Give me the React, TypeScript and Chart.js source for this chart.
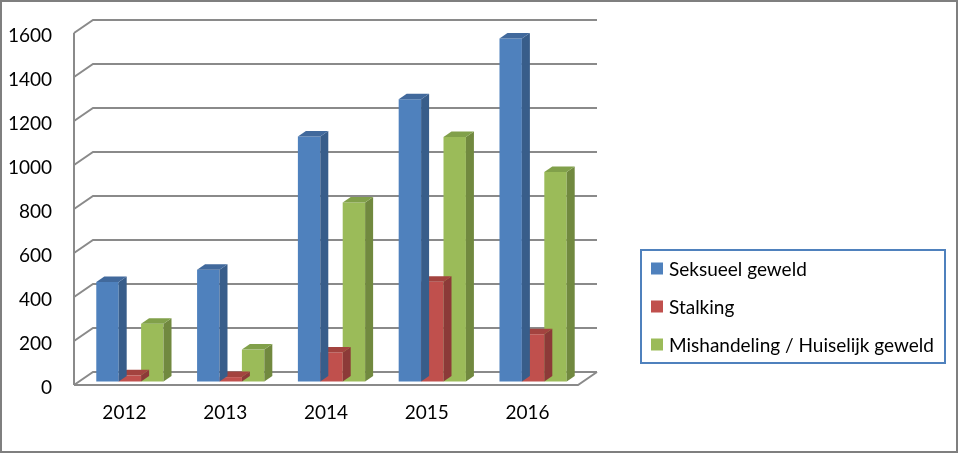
import React, { useEffect, useRef } from "react";
import { Chart, registerables } from "chart.js";

Chart.register(...registerables);

const categories = ["2012", "2013", "2014", "2015", "2016"];
const seriesNames = ["Seksueel geweld", "Stalking", "Mishandeling / Huiselijk geweld"];
const seksueelGeweld = [452, 508, 1114, 1283, 1559];
const stalking = [28, 20, 132, 453, 215];
const mishandeling = [262, 145, 814, 1111, 952];
const yTicks = [0, 200, 400, 600, 800, 1000, 1200, 1400, 1600];

const FRONT = ["#4F81BD", "#C0504D", "#9BBB59"];
const SIDE = ["#385D8A", "#8C3A38", "#71893F"];
const TOP = ["#41699C", "#A3433F", "#81A04A"];

const FONT = "Lato, 'Open Sans', sans-serif";
const WALL_DX = 19;
const WALL_DY = -13;
const BAR_SHIFT_X = 5.5;
const BAR_SHIFT_Y = -3.5;
const BAR_DX = 8;
const BAR_DY = -5.5;

const threeD = {
  id: "threeD",
  beforeDraw(chart: any) {
    const ctx = chart.ctx;
    ctx.save();
    ctx.fillStyle = "#ffffff";
    ctx.fillRect(0, 0, chart.width, chart.height);
    ctx.restore();
  },
  beforeDatasetsDraw(chart: any) {
    const ctx = chart.ctx;
    const ys = chart.scales.y;
    const { left, right } = chart.chartArea;
    ctx.save();
    ctx.strokeStyle = "#8a8a8a";
    ctx.lineWidth = 2;
    yTicks.forEach((v) => {
      const y = ys.getPixelForValue(v);
      ctx.beginPath();
      ctx.moveTo(left, y);
      ctx.lineTo(left + WALL_DX, y + WALL_DY);
      ctx.lineTo(right + WALL_DX, y + WALL_DY);
      ctx.stroke();
    });
    // floor
    const y0 = ys.getPixelForValue(0);
    ctx.beginPath();
    ctx.moveTo(left, y0);
    ctx.lineTo(right, y0);
    ctx.lineTo(right + WALL_DX, y0 + WALL_DY);
    ctx.stroke();
    // left wall front edge
    const yTop = ys.getPixelForValue(1600);
    ctx.beginPath();
    ctx.moveTo(left, yTop);
    ctx.lineTo(left, y0);
    ctx.stroke();
    ctx.restore();
    ctx.save();
    ctx.translate(BAR_SHIFT_X, BAR_SHIFT_Y);
  },
  afterDatasetDraw(chart: any, args: any) {
    const ctx = chart.ctx;
    const i = args.index;
    args.meta.data.forEach((bar: any) => {
      const { x, y, base, width } = bar.getProps(["x", "y", "base", "width"], true);
      const l = x - width / 2;
      const r = x + width / 2;
      ctx.fillStyle = SIDE[i];
      ctx.beginPath();
      ctx.moveTo(r, y);
      ctx.lineTo(r + BAR_DX, y + BAR_DY);
      ctx.lineTo(r + BAR_DX, base + BAR_DY);
      ctx.lineTo(r, base);
      ctx.closePath();
      ctx.fill();
      ctx.fillStyle = TOP[i];
      ctx.beginPath();
      ctx.moveTo(l, y);
      ctx.lineTo(l + BAR_DX, y + BAR_DY);
      ctx.lineTo(r + BAR_DX, y + BAR_DY);
      ctx.lineTo(r, y);
      ctx.closePath();
      ctx.fill();
    });
  },
  afterDatasetsDraw(chart: any) {
    chart.ctx.restore();
  },
  afterDraw(chart: any) {
    const ctx = chart.ctx;
    ctx.save();
    // legend
    ctx.strokeStyle = "#4F81BD";
    ctx.lineWidth = 2;
    ctx.strokeRect(641, 250, 304, 113);
    const rows = [268.5, 306.5, 344.5];
    ctx.font = "19px " + FONT;
    ctx.textBaseline = "middle";
    ctx.textAlign = "left";
    seriesNames.forEach((name, k) => {
      ctx.fillStyle = FRONT[k];
      ctx.fillRect(651, rows[k] - 6, 12, 12);
      ctx.fillStyle = "#000000";
      ctx.fillText(name, 669, rows[k] + 1);
    });
    // outer frame
    ctx.strokeStyle = "#7f7f7f";
    ctx.lineWidth = 2;
    ctx.strokeRect(1, 1, 956, 451);
    ctx.restore();
  },
};

export default function App() {
  const ref = useRef<HTMLCanvasElement | null>(null);
  useEffect(() => {
    if (!ref.current) return;
    const data = [seksueelGeweld, stalking, mishandeling];
    const chart = new Chart(ref.current, {
      type: "bar",
      data: {
        labels: categories,
        datasets: seriesNames.map((name, k) => ({
          label: name,
          data: data[k],
          backgroundColor: FRONT[k],
          borderWidth: 0,
          categoryPercentage: 0.667,
          barPercentage: 1,
          clip: false as any,
        })),
      },
      options: {
        responsive: false,
        animation: false,
        devicePixelRatio: 1,
        layout: { padding: { left: 0, right: 381, top: 33, bottom: 0 } },
        plugins: { legend: { display: false }, tooltip: { enabled: false }, title: { display: false } },
        scales: {
          x: {
            grid: { display: false },
            border: { display: false },
            ticks: { color: "#000000", font: { family: FONT, size: 19 }, padding: 8, maxRotation: 0 },
            afterFit(scale: any) {
              scale.height = 69;
            },
          },
          y: {
            min: 0,
            max: 1600,
            grid: { display: false },
            border: { display: false },
            ticks: {
              stepSize: 200,
              color: "#000000",
              font: { family: FONT, size: 19 },
              padding: 14,
              labelOffset: 3,
              callback: (v: any) => String(v),
            },
            afterFit(scale: any) {
              scale.width = 74;
            },
          },
        },
      },
      plugins: [threeD],
    });
    return () => chart.destroy();
  }, []);
  return (
    <div style={{ position: "absolute", left: 0, top: 0, width: 959, height: 454 }}>
      <canvas ref={ref} width={959} height={454} style={{ display: "block" }} />
    </div>
  );
}
